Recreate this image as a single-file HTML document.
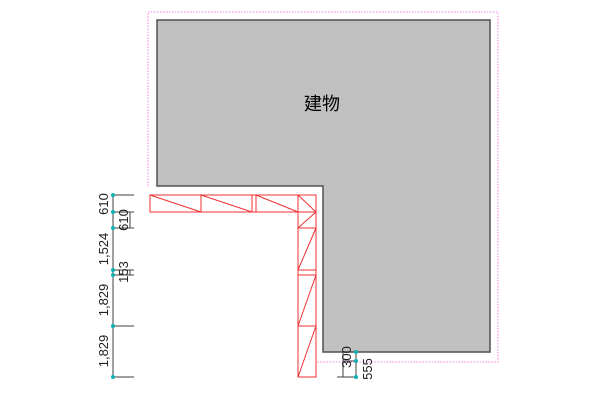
<!DOCTYPE html>
<html><head><meta charset="utf-8"><style>body{margin:0;background:#fff}svg{display:block}</style></head>
<body>
<svg width="600" height="400" xmlns="http://www.w3.org/2000/svg" font-family="Liberation Sans, Noto Sans CJK JP, sans-serif">
<polyline points="148,186 148,12 498,12 498,362 317,362" fill="none" stroke="#f080f0" stroke-dasharray="1.5,1.5"/>
<polygon points="157,20 490,20 490,352 323,352 323,186 157,186" fill="#c0c0c0" stroke="#505050" stroke-width="1.5"/>
<text x="322" y="110" font-size="18" text-anchor="middle" fill="#000">建物</text>
<g fill="none" stroke="#f03030" stroke-width="1">
<rect x="150" y="195" width="166" height="17"/>
<line x1="201" y1="195" x2="201" y2="212"/><line x1="252" y1="195" x2="252" y2="212"/><line x1="256" y1="195" x2="256" y2="212"/>
<line x1="150" y1="195" x2="201" y2="212"/><line x1="201" y1="195" x2="252" y2="212"/><line x1="256" y1="195" x2="298" y2="212"/>
<rect x="298" y="195" width="18" height="182"/>
<line x1="298" y1="212" x2="316" y2="212"/><line x1="298" y1="228" x2="316" y2="228"/><line x1="298" y1="270" x2="316" y2="270"/><line x1="298" y1="275" x2="316" y2="275"/><line x1="298" y1="326" x2="316" y2="326"/>
<line x1="298" y1="195" x2="316" y2="212"/><line x1="298" y1="228" x2="316" y2="212"/>
<line x1="298" y1="270" x2="316" y2="228"/><line x1="298" y1="326" x2="316" y2="275"/><line x1="298" y1="377" x2="316" y2="326"/>
</g>
<g stroke="#404040" stroke-width="1">
<line x1="113" y1="195" x2="113" y2="377"/>
<line x1="130" y1="212" x2="130" y2="228"/><line x1="130" y1="270" x2="130" y2="275"/>
<line x1="113" y1="195" x2="134" y2="195"/><line x1="113" y1="212" x2="134" y2="212"/><line x1="113" y1="228" x2="134" y2="228"/><line x1="113" y1="270" x2="134" y2="270"/><line x1="113" y1="275" x2="134" y2="275"/><line x1="113" y1="326" x2="134" y2="326"/><line x1="113" y1="377" x2="134" y2="377"/>
<line x1="356" y1="352" x2="356" y2="377"/><line x1="337" y1="377" x2="356" y2="377"/><line x1="343" y1="361" x2="356" y2="361"/><line x1="343" y1="352" x2="343" y2="377"/>
</g>
<g fill="#10b0b0">
<circle cx="113" cy="195" r="2"/><circle cx="113" cy="212" r="2"/><circle cx="113" cy="228" r="2"/><circle cx="113" cy="270" r="2"/><circle cx="113" cy="275" r="2"/><circle cx="113" cy="326" r="2"/><circle cx="113" cy="377" r="2"/>
<circle cx="356" cy="352" r="2"/><circle cx="356" cy="361" r="2"/><circle cx="356" cy="377" r="2"/>
</g>
<g font-size="13" fill="#202020" text-anchor="middle">
<text transform="translate(108,204) rotate(-90)">610</text>
<text transform="translate(128,220) rotate(-90)">610</text>
<text transform="translate(108,249) rotate(-90)">1,524</text>
<text transform="translate(128,272) rotate(-90)">153</text>
<text transform="translate(108,300) rotate(-90)">1,829</text>
<text transform="translate(108,351) rotate(-90)">1,829</text>
<text transform="translate(351,357) rotate(-90)">300</text>
<text transform="translate(372,369) rotate(-90)">555</text>
</g>
</svg>
</body></html>
